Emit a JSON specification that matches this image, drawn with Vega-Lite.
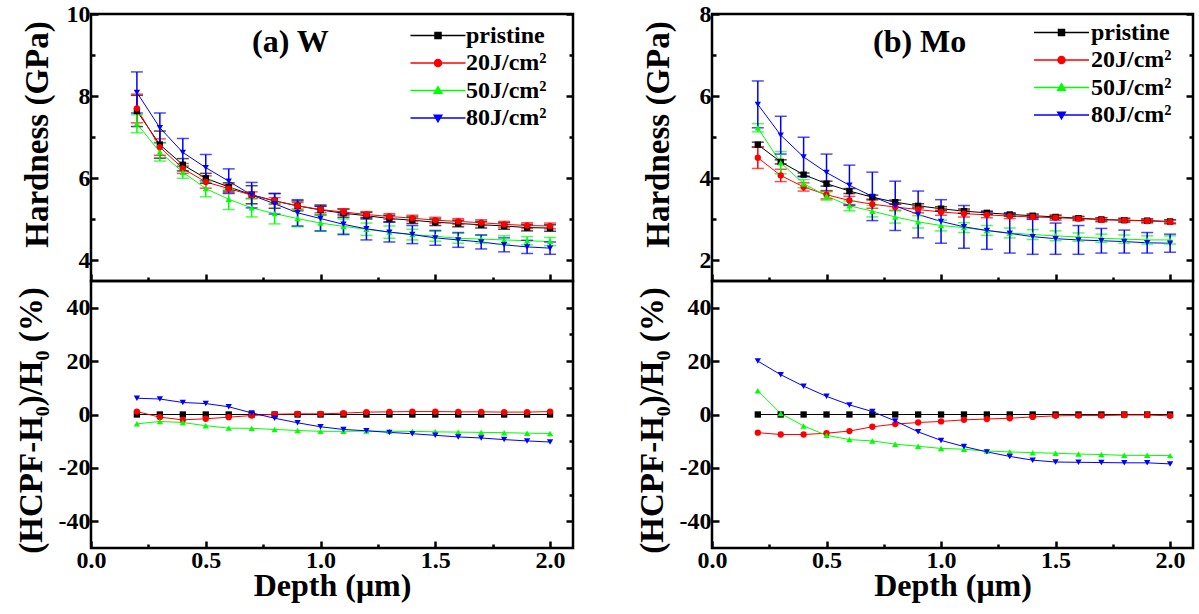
{
"$schema": "https://vega.github.io/schema/vega-lite/v6.json",
"background": "white",
"padding": {"left": 14, "top": 0, "right": 5, "bottom": 5},
"datasets": {"d": [
{"m":"W","s":"pristine","d":0.2,"h":7.64,"e":0.38,"r":0},{"m":"W","s":"pristine","d":0.3,"h":6.82,"e":0.33,"r":0},{"m":"W","s":"pristine","d":0.4,"h":6.33,"e":0.15,"r":0},{"m":"W","s":"pristine","d":0.5,"h":6.00,"e":0.12,"r":0},{"m":"W","s":"pristine","d":0.6,"h":5.79,"e":0.10,"r":0},{"m":"W","s":"pristine","d":0.7,"h":5.60,"e":0.22,"r":0},{"m":"W","s":"pristine","d":0.8,"h":5.45,"e":0.18,"r":0},{"m":"W","s":"pristine","d":0.9,"h":5.33,"e":0.12,"r":0},{"m":"W","s":"pristine","d":1.0,"h":5.23,"e":0.12,"r":0},{"m":"W","s":"pristine","d":1.1,"h":5.15,"e":0.10,"r":0},{"m":"W","s":"pristine","d":1.2,"h":5.09,"e":0.08,"r":0},{"m":"W","s":"pristine","d":1.3,"h":5.02,"e":0.08,"r":0},{"m":"W","s":"pristine","d":1.4,"h":4.98,"e":0.08,"r":0},{"m":"W","s":"pristine","d":1.5,"h":4.93,"e":0.08,"r":0},{"m":"W","s":"pristine","d":1.6,"h":4.90,"e":0.08,"r":0},{"m":"W","s":"pristine","d":1.7,"h":4.87,"e":0.08,"r":0},{"m":"W","s":"pristine","d":1.8,"h":4.84,"e":0.08,"r":0},{"m":"W","s":"pristine","d":1.9,"h":4.80,"e":0.08,"r":0},{"m":"W","s":"pristine","d":2.0,"h":4.79,"e":0.08,"r":0},
{"m":"W","s":"20J/cm²","d":0.2,"h":7.70,"e":0.35,"r":1.1},{"m":"W","s":"20J/cm²","d":0.3,"h":6.76,"e":0.20,"r":-1.0},{"m":"W","s":"20J/cm²","d":0.4,"h":6.24,"e":0.12,"r":-2.0},{"m":"W","s":"20J/cm²","d":0.5,"h":5.91,"e":0.15,"r":-1.6},{"m":"W","s":"20J/cm²","d":0.6,"h":5.75,"e":0.10,"r":-1.0},{"m":"W","s":"20J/cm²","d":0.7,"h":5.59,"e":0.08,"r":-0.4},{"m":"W","s":"20J/cm²","d":0.8,"h":5.45,"e":0.08,"r":0.1},{"m":"W","s":"20J/cm²","d":0.9,"h":5.33,"e":0.08,"r":0.25},{"m":"W","s":"20J/cm²","d":1.0,"h":5.24,"e":0.08,"r":0.25},{"m":"W","s":"20J/cm²","d":1.1,"h":5.18,"e":0.08,"r":0.5},{"m":"W","s":"20J/cm²","d":1.2,"h":5.12,"e":0.07,"r":0.9},{"m":"W","s":"20J/cm²","d":1.3,"h":5.07,"e":0.07,"r":1.0},{"m":"W","s":"20J/cm²","d":1.4,"h":5.03,"e":0.07,"r":1.1},{"m":"W","s":"20J/cm²","d":1.5,"h":4.98,"e":0.07,"r":1.1},{"m":"W","s":"20J/cm²","d":1.6,"h":4.95,"e":0.07,"r":1.0},{"m":"W","s":"20J/cm²","d":1.7,"h":4.92,"e":0.07,"r":1.0},{"m":"W","s":"20J/cm²","d":1.8,"h":4.88,"e":0.07,"r":0.9},{"m":"W","s":"20J/cm²","d":1.9,"h":4.85,"e":0.07,"r":0.9},{"m":"W","s":"20J/cm²","d":2.0,"h":4.84,"e":0.07,"r":1.1},
{"m":"W","s":"50J/cm²","d":0.2,"h":7.33,"e":0.22,"r":-3.5},{"m":"W","s":"50J/cm²","d":0.3,"h":6.64,"e":0.22,"r":-2.6},{"m":"W","s":"50J/cm²","d":0.4,"h":6.15,"e":0.15,"r":-3.0},{"m":"W","s":"50J/cm²","d":0.5,"h":5.75,"e":0.20,"r":-4.2},{"m":"W","s":"50J/cm²","d":0.6,"h":5.49,"e":0.25,"r":-5.1},{"m":"W","s":"50J/cm²","d":0.7,"h":5.28,"e":0.22,"r":-5.2},{"m":"W","s":"50J/cm²","d":0.8,"h":5.14,"e":0.25,"r":-5.6},{"m":"W","s":"50J/cm²","d":0.9,"h":5.02,"e":0.20,"r":-6.0},{"m":"W","s":"50J/cm²","d":1.0,"h":4.91,"e":0.20,"r":-6.3},{"m":"W","s":"50J/cm²","d":1.1,"h":4.83,"e":0.18,"r":-6.3},{"m":"W","s":"50J/cm²","d":1.2,"h":4.76,"e":0.15,"r":-6.2},{"m":"W","s":"50J/cm²","d":1.3,"h":4.69,"e":0.15,"r":-6.3},{"m":"W","s":"50J/cm²","d":1.4,"h":4.63,"e":0.13,"r":-6.3},{"m":"W","s":"50J/cm²","d":1.5,"h":4.59,"e":0.12,"r":-6.5},{"m":"W","s":"50J/cm²","d":1.6,"h":4.54,"e":0.12,"r":-6.6},{"m":"W","s":"50J/cm²","d":1.7,"h":4.52,"e":0.10,"r":-6.7},{"m":"W","s":"50J/cm²","d":1.8,"h":4.50,"e":0.10,"r":-6.8},{"m":"W","s":"50J/cm²","d":1.9,"h":4.48,"e":0.10,"r":-7.0},{"m":"W","s":"50J/cm²","d":2.0,"h":4.46,"e":0.10,"r":-7.1},
{"m":"W","s":"80J/cm²","d":0.2,"h":8.09,"e":0.50,"r":6.1},{"m":"W","s":"80J/cm²","d":0.3,"h":7.23,"e":0.36,"r":5.8},{"m":"W","s":"80J/cm²","d":0.4,"h":6.63,"e":0.34,"r":4.5},{"m":"W","s":"80J/cm²","d":0.5,"h":6.26,"e":0.32,"r":4.1},{"m":"W","s":"80J/cm²","d":0.6,"h":5.93,"e":0.30,"r":2.9},{"m":"W","s":"80J/cm²","d":0.7,"h":5.59,"e":0.31,"r":0.6},{"m":"W","s":"80J/cm²","d":0.8,"h":5.38,"e":0.25,"r":-1.4},{"m":"W","s":"80J/cm²","d":0.9,"h":5.16,"e":0.32,"r":-3.1},{"m":"W","s":"80J/cm²","d":1.0,"h":5.02,"e":0.30,"r":-4.6},{"m":"W","s":"80J/cm²","d":1.1,"h":4.88,"e":0.25,"r":-5.6},{"m":"W","s":"80J/cm²","d":1.2,"h":4.77,"e":0.27,"r":-6.1},{"m":"W","s":"80J/cm²","d":1.3,"h":4.69,"e":0.24,"r":-6.7},{"m":"W","s":"80J/cm²","d":1.4,"h":4.63,"e":0.22,"r":-7.2},{"m":"W","s":"80J/cm²","d":1.5,"h":4.55,"e":0.18,"r":-7.8},{"m":"W","s":"80J/cm²","d":1.6,"h":4.50,"e":0.18,"r":-8.4},{"m":"W","s":"80J/cm²","d":1.7,"h":4.45,"e":0.17,"r":-8.8},{"m":"W","s":"80J/cm²","d":1.8,"h":4.38,"e":0.17,"r":-9.4},{"m":"W","s":"80J/cm²","d":1.9,"h":4.33,"e":0.16,"r":-9.9},{"m":"W","s":"80J/cm²","d":2.0,"h":4.30,"e":0.15,"r":-10.3},
{"m":"Mo","s":"pristine","d":0.2,"h":4.82,"e":0.06,"r":0},{"m":"Mo","s":"pristine","d":0.3,"h":4.40,"e":0.05,"r":0},{"m":"Mo","s":"pristine","d":0.4,"h":4.09,"e":0.04,"r":0},{"m":"Mo","s":"pristine","d":0.5,"h":3.87,"e":0.06,"r":0},{"m":"Mo","s":"pristine","d":0.6,"h":3.69,"e":0.06,"r":0},{"m":"Mo","s":"pristine","d":0.7,"h":3.54,"e":0.05,"r":0},{"m":"Mo","s":"pristine","d":0.8,"h":3.42,"e":0.05,"r":0},{"m":"Mo","s":"pristine","d":0.9,"h":3.33,"e":0.05,"r":0},{"m":"Mo","s":"pristine","d":1.0,"h":3.26,"e":0.05,"r":0},{"m":"Mo","s":"pristine","d":1.1,"h":3.20,"e":0.05,"r":0},{"m":"Mo","s":"pristine","d":1.2,"h":3.16,"e":0.04,"r":0},{"m":"Mo","s":"pristine","d":1.3,"h":3.12,"e":0.04,"r":0},{"m":"Mo","s":"pristine","d":1.4,"h":3.09,"e":0.04,"r":0},{"m":"Mo","s":"pristine","d":1.5,"h":3.06,"e":0.04,"r":0},{"m":"Mo","s":"pristine","d":1.6,"h":3.03,"e":0.04,"r":0},{"m":"Mo","s":"pristine","d":1.7,"h":3.00,"e":0.04,"r":0},{"m":"Mo","s":"pristine","d":1.8,"h":2.98,"e":0.04,"r":0},{"m":"Mo","s":"pristine","d":1.9,"h":2.97,"e":0.04,"r":0},{"m":"Mo","s":"pristine","d":2.0,"h":2.95,"e":0.04,"r":0},
{"m":"Mo","s":"20J/cm²","d":0.2,"h":4.50,"e":0.26,"r":-6.8},{"m":"Mo","s":"20J/cm²","d":0.3,"h":4.07,"e":0.15,"r":-7.5},{"m":"Mo","s":"20J/cm²","d":0.4,"h":3.79,"e":0.10,"r":-7.5},{"m":"Mo","s":"20J/cm²","d":0.5,"h":3.60,"e":0.10,"r":-7.0},{"m":"Mo","s":"20J/cm²","d":0.6,"h":3.46,"e":0.10,"r":-6.2},{"m":"Mo","s":"20J/cm²","d":0.7,"h":3.37,"e":0.10,"r":-4.6},{"m":"Mo","s":"20J/cm²","d":0.8,"h":3.30,"e":0.08,"r":-3.6},{"m":"Mo","s":"20J/cm²","d":0.9,"h":3.24,"e":0.08,"r":-3.0},{"m":"Mo","s":"20J/cm²","d":1.0,"h":3.18,"e":0.08,"r":-2.6},{"m":"Mo","s":"20J/cm²","d":1.1,"h":3.14,"e":0.08,"r":-2.0},{"m":"Mo","s":"20J/cm²","d":1.2,"h":3.11,"e":0.07,"r":-1.7},{"m":"Mo","s":"20J/cm²","d":1.3,"h":3.08,"e":0.06,"r":-1.4},{"m":"Mo","s":"20J/cm²","d":1.4,"h":3.06,"e":0.06,"r":-0.9},{"m":"Mo","s":"20J/cm²","d":1.5,"h":3.04,"e":0.06,"r":-0.5},{"m":"Mo","s":"20J/cm²","d":1.6,"h":3.02,"e":0.05,"r":-0.4},{"m":"Mo","s":"20J/cm²","d":1.7,"h":2.99,"e":0.05,"r":-0.4},{"m":"Mo","s":"20J/cm²","d":1.8,"h":2.98,"e":0.05,"r":-0.2},{"m":"Mo","s":"20J/cm²","d":1.9,"h":2.96,"e":0.05,"r":-0.2},{"m":"Mo","s":"20J/cm²","d":2.0,"h":2.94,"e":0.05,"r":-0.5},
{"m":"Mo","s":"50J/cm²","d":0.2,"h":5.23,"e":0.10,"r":8.9},{"m":"Mo","s":"50J/cm²","d":0.3,"h":4.38,"e":0.27,"r":0.4},{"m":"Mo","s":"50J/cm²","d":0.4,"h":3.87,"e":0.10,"r":-4.3},{"m":"Mo","s":"50J/cm²","d":0.5,"h":3.57,"e":0.10,"r":-7.8},{"m":"Mo","s":"50J/cm²","d":0.6,"h":3.33,"e":0.12,"r":-9.4},{"m":"Mo","s":"50J/cm²","d":0.7,"h":3.20,"e":0.14,"r":-9.9},{"m":"Mo","s":"50J/cm²","d":0.8,"h":3.06,"e":0.15,"r":-11.1},{"m":"Mo","s":"50J/cm²","d":0.9,"h":2.94,"e":0.15,"r":-11.9},{"m":"Mo","s":"50J/cm²","d":1.0,"h":2.85,"e":0.13,"r":-12.7},{"m":"Mo","s":"50J/cm²","d":1.1,"h":2.80,"e":0.12,"r":-13.0},{"m":"Mo","s":"50J/cm²","d":1.2,"h":2.73,"e":0.12,"r":-13.7},{"m":"Mo","s":"50J/cm²","d":1.3,"h":2.67,"e":0.12,"r":-14.0},{"m":"Mo","s":"50J/cm²","d":1.4,"h":2.63,"e":0.12,"r":-14.3},{"m":"Mo","s":"50J/cm²","d":1.5,"h":2.60,"e":0.12,"r":-14.5},{"m":"Mo","s":"50J/cm²","d":1.6,"h":2.57,"e":0.10,"r":-14.8},{"m":"Mo","s":"50J/cm²","d":1.7,"h":2.54,"e":0.10,"r":-15.0},{"m":"Mo","s":"50J/cm²","d":1.8,"h":2.52,"e":0.10,"r":-15.3},{"m":"Mo","s":"50J/cm²","d":1.9,"h":2.50,"e":0.10,"r":-15.3},{"m":"Mo","s":"50J/cm²","d":2.0,"h":2.50,"e":0.10,"r":-15.4},
{"m":"Mo","s":"80J/cm²","d":0.2,"h":5.80,"e":0.57,"r":20.0},{"m":"Mo","s":"80J/cm²","d":0.3,"h":5.05,"e":0.46,"r":14.9},{"m":"Mo","s":"80J/cm²","d":0.4,"h":4.52,"e":0.48,"r":10.6},{"m":"Mo","s":"80J/cm²","d":0.5,"h":4.14,"e":0.45,"r":6.8},{"m":"Mo","s":"80J/cm²","d":0.6,"h":3.83,"e":0.49,"r":3.6},{"m":"Mo","s":"80J/cm²","d":0.7,"h":3.56,"e":0.59,"r":1.1},{"m":"Mo","s":"80J/cm²","d":0.8,"h":3.33,"e":0.60,"r":-2.4},{"m":"Mo","s":"80J/cm²","d":0.9,"h":3.12,"e":0.57,"r":-6.5},{"m":"Mo","s":"80J/cm²","d":1.0,"h":2.95,"e":0.53,"r":-9.7},{"m":"Mo","s":"80J/cm²","d":1.1,"h":2.82,"e":0.52,"r":-12.0},{"m":"Mo","s":"80J/cm²","d":1.2,"h":2.73,"e":0.46,"r":-14.0},{"m":"Mo","s":"80J/cm²","d":1.3,"h":2.66,"e":0.48,"r":-15.7},{"m":"Mo","s":"80J/cm²","d":1.4,"h":2.58,"e":0.43,"r":-17.1},{"m":"Mo","s":"80J/cm²","d":1.5,"h":2.53,"e":0.38,"r":-17.8},{"m":"Mo","s":"80J/cm²","d":1.6,"h":2.50,"e":0.35,"r":-17.9},{"m":"Mo","s":"80J/cm²","d":1.7,"h":2.48,"e":0.30,"r":-18.0},{"m":"Mo","s":"80J/cm²","d":1.8,"h":2.46,"e":0.28,"r":-18.1},{"m":"Mo","s":"80J/cm²","d":1.9,"h":2.43,"e":0.25,"r":-18.1},{"m":"Mo","s":"80J/cm²","d":2.0,"h":2.42,"e":0.22,"r":-18.5}
]},
"columns": 2,
"spacing": {"row": 0, "column": 139},
"bounds": "flush",
"resolve": {"scale": {"color": "independent", "shape": "independent", "fill": "independent", "stroke": "independent"}},
"concat": [
 {"width": 482, "height": 267,
  "data": {"name": "d"},
  "transform": [{"filter": "datum.m === 'W'"}],
  "title": {"text": "(a) W", "anchor": "start", "frame": "group", "dx": 161, "dy": 82, "offset": 0, "baseline": "alphabetic", "fontSize": 32, "font": "Liberation Serif", "fontWeight": "bold", "color": "#000000"},
  "layer": [
   {"layer": [
    {"mark": {"type": "line", "strokeWidth": 1},
     "encoding": {
      "x": {"field": "d", "type": "quantitative", "title": null, "scale": {"domain": [0, 2.1], "nice": false, "zero": false}, "axis": {"values": [0,0.25,0.5,0.75,1,1.25,1.5,1.75,2], "labels": false, "title": null, "tickSize": {"condition": {"test": "(datum.value*2) % 1 === 0", "value": -7}, "value": -4}}},
      "y": {"field": "h", "type": "quantitative", "title": "Hardness (GPa)", "scale": {"domain": [3.5, 10], "nice": false, "zero": false}, "axis": {"values": [4,5,6,7,8,9,10], "labelExpr": "datum.value % 2 === 0 ? '' + datum.value : ''", "tickSize": {"condition": {"test": "datum.value % 2 === 0", "value": -7}, "value": -4}, "titleX": -43.5, "titleY": 120, "titleBaseline": "alphabetic"}},
      "color": {"field": "s", "type": "nominal", "scale": {"domain": ["pristine","20J/cm²","50J/cm²","80J/cm²"], "range": ["#000000","#ff0000","#00ff00","#0000ff"]}, "legend": null}
     }},
    {"mark": {"type": "errorbar", "ticks": true, "size": 12, "thickness": 1.5},
     "encoding": {
      "x": {"field": "d", "type": "quantitative", "title": null},
      "y": {"field": "h", "type": "quantitative", "title": "Hardness (GPa)"},
      "yError": {"field": "e"},
      "color": {"field": "s", "type": "nominal", "legend": null}
     }},
    {"mark": {"type": "point", "filled": true, "size": 40, "opacity": 1},
     "encoding": {
      "x": {"field": "d", "type": "quantitative", "title": null},
      "y": {"field": "h", "type": "quantitative", "title": "Hardness (GPa)"},
      "color": {"field": "s", "type": "nominal", "legend": null},
      "shape": {"field": "s", "type": "nominal", "scale": {"domain": ["pristine","20J/cm²","50J/cm²","80J/cm²"], "range": ["square","circle","triangle-up","triangle-down"]}, "legend": null}
     }}
   ]},
   {"mark": {"type": "rule", "opacity": 0},
    "encoding": {"y": {"field": "h", "type": "quantitative", "title": null, "scale": {"domain": [3.5, 10], "nice": false, "zero": false}, "axis": {"orient": "right", "values": [4,5,6,7,8,9,10], "labels": false, "title": null, "tickSize": {"condition": {"test": "datum.value % 2 === 0", "value": -7}, "value": -4}}}}},
   {"transform": [{"filter": "datum.d > 100"}],
    "mark": {"type": "point", "filled": true, "size": 100, "opacity": 1, "strokeWidth": 1.5},
    "encoding": {
     "fill": {"field": "s", "type": "nominal", "scale": {"domain": ["pristine","20J/cm²","50J/cm²","80J/cm²"], "range": ["#000000","#ff0000","#00ff00","#0000ff"]}, "legend": {"orient": "none", "legendX": 335, "legendY": 9.5, "title": null, "padding": 0, "labelFont": "Liberation Serif", "labelFontSize": 24, "labelFontWeight": "bold", "labelColor": "#000000", "labelOffset": 16, "symbolSize": 100, "symbolStrokeWidth": 1.5, "symbolOpacity": 1, "rowPadding": 3.5}},
     "stroke": {"field": "s", "type": "nominal", "scale": {"domain": ["pristine","20J/cm²","50J/cm²","80J/cm²"], "range": ["#000000","#ff0000","#00ff00","#0000ff"]}, "legend": {"orient": "none", "legendX": 335, "legendY": 9.5, "title": null, "padding": 0, "labelFont": "Liberation Serif", "labelFontSize": 24, "labelFontWeight": "bold", "labelColor": "#000000", "labelOffset": 16, "symbolSize": 100, "symbolStrokeWidth": 1.5, "symbolOpacity": 1, "rowPadding": 3.5}},
     "shape": {"field": "s", "type": "nominal", "scale": {"domain": ["pristine","20J/cm²","50J/cm²","80J/cm²"], "range": ["M-5.5,0H5.5M-0.6,-0.6H0.6V0.6H-0.6Z", "M-5.5,0H5.5M-0.7,0A0.7,0.7 0 1,0 0.7,0A0.7,0.7 0 1,0 -0.7,0Z", "M-5.5,0H5.5M0,-0.75L0.75,0.55H-0.75Z", "M-5.5,0H5.5M0,0.75L0.75,-0.55H-0.75Z"]}, "legend": {"orient": "none", "legendX": 335, "legendY": 9.5, "title": null, "padding": 0, "labelFont": "Liberation Serif", "labelFontSize": 24, "labelFontWeight": "bold", "labelColor": "#000000", "labelOffset": 16, "symbolSize": 100, "symbolStrokeWidth": 1.5, "symbolOpacity": 1, "rowPadding": 3.5}}
    }}
  ],
  "resolve": {"axis": {"y": "independent"}, "scale": {"shape": "independent", "fill": "independent", "stroke": "independent"}}
 },
 {"width": 481, "height": 267,
  "data": {"name": "d"},
  "transform": [{"filter": "datum.m === 'Mo'"}],
  "title": {"text": "(b) Mo", "anchor": "start", "frame": "group", "dx": 161, "dy": 82, "offset": 0, "baseline": "alphabetic", "fontSize": 32, "font": "Liberation Serif", "fontWeight": "bold", "color": "#000000"},
  "layer": [
   {"layer": [
    {"mark": {"type": "line", "strokeWidth": 1},
     "encoding": {
      "x": {"field": "d", "type": "quantitative", "title": null, "scale": {"domain": [0, 2.1], "nice": false, "zero": false}, "axis": {"values": [0,0.25,0.5,0.75,1,1.25,1.5,1.75,2], "labels": false, "title": null, "tickSize": {"condition": {"test": "(datum.value*2) % 1 === 0", "value": -7}, "value": -4}}},
      "y": {"field": "h", "type": "quantitative", "title": "Hardness (GPa)", "scale": {"domain": [1.5, 8], "nice": false, "zero": false}, "axis": {"values": [2,3,4,5,6,7,8], "labelExpr": "datum.value % 2 === 0 ? '' + datum.value : ''", "tickSize": {"condition": {"test": "datum.value % 2 === 0", "value": -7}, "value": -4}, "titleX": -43.5, "titleY": 120, "titleBaseline": "alphabetic"}},
      "color": {"field": "s", "type": "nominal", "scale": {"domain": ["pristine","20J/cm²","50J/cm²","80J/cm²"], "range": ["#000000","#ff0000","#00ff00","#0000ff"]}, "legend": null}
     }},
    {"mark": {"type": "errorbar", "ticks": true, "size": 12, "thickness": 1.5},
     "encoding": {
      "x": {"field": "d", "type": "quantitative", "title": null},
      "y": {"field": "h", "type": "quantitative", "title": "Hardness (GPa)"},
      "yError": {"field": "e"},
      "color": {"field": "s", "type": "nominal", "legend": null}
     }},
    {"mark": {"type": "point", "filled": true, "size": 40, "opacity": 1},
     "encoding": {
      "x": {"field": "d", "type": "quantitative", "title": null},
      "y": {"field": "h", "type": "quantitative", "title": "Hardness (GPa)"},
      "color": {"field": "s", "type": "nominal", "legend": null},
      "shape": {"field": "s", "type": "nominal", "scale": {"domain": ["pristine","20J/cm²","50J/cm²","80J/cm²"], "range": ["square","circle","triangle-up","triangle-down"]}, "legend": null}
     }}
   ]},
   {"mark": {"type": "rule", "opacity": 0},
    "encoding": {"y": {"field": "h", "type": "quantitative", "title": null, "scale": {"domain": [1.5, 8], "nice": false, "zero": false}, "axis": {"orient": "right", "values": [2,3,4,5,6,7,8], "labels": false, "title": null, "tickSize": {"condition": {"test": "datum.value % 2 === 0", "value": -7}, "value": -4}}}}},
   {"transform": [{"filter": "datum.d > 100"}],
    "mark": {"type": "point", "filled": true, "size": 100, "opacity": 1, "strokeWidth": 1.5},
    "encoding": {
     "fill": {"field": "s", "type": "nominal", "scale": {"domain": ["pristine","20J/cm²","50J/cm²","80J/cm²"], "range": ["#000000","#ff0000","#00ff00","#0000ff"]}, "legend": {"orient": "none", "legendX": 337.5, "legendY": 6.5, "title": null, "padding": 0, "labelFont": "Liberation Serif", "labelFontSize": 24, "labelFontWeight": "bold", "labelColor": "#000000", "labelOffset": 17.5, "symbolSize": 100, "symbolStrokeWidth": 1.5, "symbolOpacity": 1, "rowPadding": 3.5}},
     "stroke": {"field": "s", "type": "nominal", "scale": {"domain": ["pristine","20J/cm²","50J/cm²","80J/cm²"], "range": ["#000000","#ff0000","#00ff00","#0000ff"]}, "legend": {"orient": "none", "legendX": 337.5, "legendY": 6.5, "title": null, "padding": 0, "labelFont": "Liberation Serif", "labelFontSize": 24, "labelFontWeight": "bold", "labelColor": "#000000", "labelOffset": 17.5, "symbolSize": 100, "symbolStrokeWidth": 1.5, "symbolOpacity": 1, "rowPadding": 3.5}},
     "shape": {"field": "s", "type": "nominal", "scale": {"domain": ["pristine","20J/cm²","50J/cm²","80J/cm²"], "range": ["M-5.5,0H5.5M-0.6,-0.6H0.6V0.6H-0.6Z", "M-5.5,0H5.5M-0.7,0A0.7,0.7 0 1,0 0.7,0A0.7,0.7 0 1,0 -0.7,0Z", "M-5.5,0H5.5M0,-0.75L0.75,0.55H-0.75Z", "M-5.5,0H5.5M0,0.75L0.75,-0.55H-0.75Z"]}, "legend": {"orient": "none", "legendX": 337.5, "legendY": 6.5, "title": null, "padding": 0, "labelFont": "Liberation Serif", "labelFontSize": 24, "labelFontWeight": "bold", "labelColor": "#000000", "labelOffset": 17.5, "symbolSize": 100, "symbolStrokeWidth": 1.5, "symbolOpacity": 1, "rowPadding": 3.5}}
    }}
  ],
  "resolve": {"axis": {"y": "independent"}, "scale": {"shape": "independent", "fill": "independent", "stroke": "independent"}}
 },
 {"width": 482, "height": 267,
  "data": {"name": "d"},
  "transform": [{"filter": "datum.m === 'W'"}],
  "layer": [
   {"layer": [
    {"mark": {"type": "line", "strokeWidth": 1},
     "encoding": {
      "x": {"field": "d", "type": "quantitative", "title": "Depth (μm)", "scale": {"domain": [0, 2.1], "nice": false, "zero": false}, "axis": {"values": [0,0.25,0.5,0.75,1,1.25,1.5,1.75,2], "format": ".1f", "labelExpr": "(datum.value*2) % 1 === 0 ? datum.label : ''", "titleY": 47, "titleBaseline": "alphabetic", "tickSize": {"condition": {"test": "(datum.value*2) % 1 === 0", "value": -7}, "value": -4}}},
      "y": {"field": "r", "type": "quantitative", "title": "(HCPF-H₀)/H₀ (%)", "scale": {"domain": [-50, 50], "nice": false, "zero": false}, "axis": {"values": [-40,-30,-20,-10,0,10,20,30,40], "labelExpr": "datum.value % 20 === 0 ? '' + datum.value : ''", "tickSize": {"condition": {"test": "datum.value % 20 === 0", "value": -7}, "value": -4}, "titleX": -49.5, "titleY": 139, "titleBaseline": "alphabetic"}},
      "color": {"field": "s", "type": "nominal", "scale": {"domain": ["pristine","20J/cm²","50J/cm²","80J/cm²"], "range": ["#000000","#ff0000","#00ff00","#0000ff"]}, "legend": null}
     }},
    {"mark": {"type": "point", "filled": true, "size": 40, "opacity": 1},
     "encoding": {
      "x": {"field": "d", "type": "quantitative", "title": "Depth (μm)"},
      "y": {"field": "r", "type": "quantitative", "title": "(HCPF-H₀)/H₀ (%)"},
      "color": {"field": "s", "type": "nominal", "legend": null},
      "shape": {"field": "s", "type": "nominal", "scale": {"domain": ["pristine","20J/cm²","50J/cm²","80J/cm²"], "range": ["square","circle","triangle-up","triangle-down"]}, "legend": null}
     }}
   ]},
   {"mark": {"type": "rule", "opacity": 0},
    "encoding": {"y": {"field": "r", "type": "quantitative", "title": null, "scale": {"domain": [-50, 50], "nice": false, "zero": false}, "axis": {"orient": "right", "values": [-40,-30,-20,-10,0,10,20,30,40], "labels": false, "title": null, "tickSize": {"condition": {"test": "datum.value % 20 === 0", "value": -7}, "value": -4}}}}}
  ],
  "resolve": {"axis": {"y": "independent"}}
 },
 {"width": 481, "height": 267,
  "data": {"name": "d"},
  "transform": [{"filter": "datum.m === 'Mo'"}],
  "layer": [
   {"layer": [
    {"mark": {"type": "line", "strokeWidth": 1},
     "encoding": {
      "x": {"field": "d", "type": "quantitative", "title": "Depth (μm)", "scale": {"domain": [0, 2.1], "nice": false, "zero": false}, "axis": {"values": [0,0.25,0.5,0.75,1,1.25,1.5,1.75,2], "format": ".1f", "labelExpr": "(datum.value*2) % 1 === 0 ? datum.label : ''", "titleY": 47, "titleBaseline": "alphabetic", "tickSize": {"condition": {"test": "(datum.value*2) % 1 === 0", "value": -7}, "value": -4}}},
      "y": {"field": "r", "type": "quantitative", "title": "(HCPF-H₀)/H₀ (%)", "scale": {"domain": [-50, 50], "nice": false, "zero": false}, "axis": {"values": [-40,-30,-20,-10,0,10,20,30,40], "labelExpr": "datum.value % 20 === 0 ? '' + datum.value : ''", "tickSize": {"condition": {"test": "datum.value % 20 === 0", "value": -7}, "value": -4}, "titleX": -49.5, "titleY": 139, "titleBaseline": "alphabetic"}},
      "color": {"field": "s", "type": "nominal", "scale": {"domain": ["pristine","20J/cm²","50J/cm²","80J/cm²"], "range": ["#000000","#ff0000","#00ff00","#0000ff"]}, "legend": null}
     }},
    {"mark": {"type": "point", "filled": true, "size": 40, "opacity": 1},
     "encoding": {
      "x": {"field": "d", "type": "quantitative", "title": "Depth (μm)"},
      "y": {"field": "r", "type": "quantitative", "title": "(HCPF-H₀)/H₀ (%)"},
      "color": {"field": "s", "type": "nominal", "legend": null},
      "shape": {"field": "s", "type": "nominal", "scale": {"domain": ["pristine","20J/cm²","50J/cm²","80J/cm²"], "range": ["square","circle","triangle-up","triangle-down"]}, "legend": null}
     }}
   ]},
   {"mark": {"type": "rule", "opacity": 0},
    "encoding": {"y": {"field": "r", "type": "quantitative", "title": null, "scale": {"domain": [-50, 50], "nice": false, "zero": false}, "axis": {"orient": "right", "values": [-40,-30,-20,-10,0,10,20,30,40], "labels": false, "title": null, "tickSize": {"condition": {"test": "datum.value % 20 === 0", "value": -7}, "value": -4}}}}}
  ],
  "resolve": {"axis": {"y": "independent"}}
 }
],
"config": {
 "font": "Liberation Serif",
 "view": {"stroke": "#000000", "strokeWidth": 2.5},
 "axis": {"domain": false, "grid": false, "ticks": true, "tickColor": "#000000", "tickWidth": 2.5, "labelFont": "Liberation Serif", "labelFontSize": 24, "labelFontWeight": "bold", "labelColor": "#000000", "labelPadding": 8, "labelOverlap": false, "labelFlush": false, "titleFont": "Liberation Serif", "titleFontSize": 33, "titleFontWeight": "bold", "titleColor": "#000000"},
 "axisX": {"labelPadding": 7, "titleFontSize": 32}
}
}
